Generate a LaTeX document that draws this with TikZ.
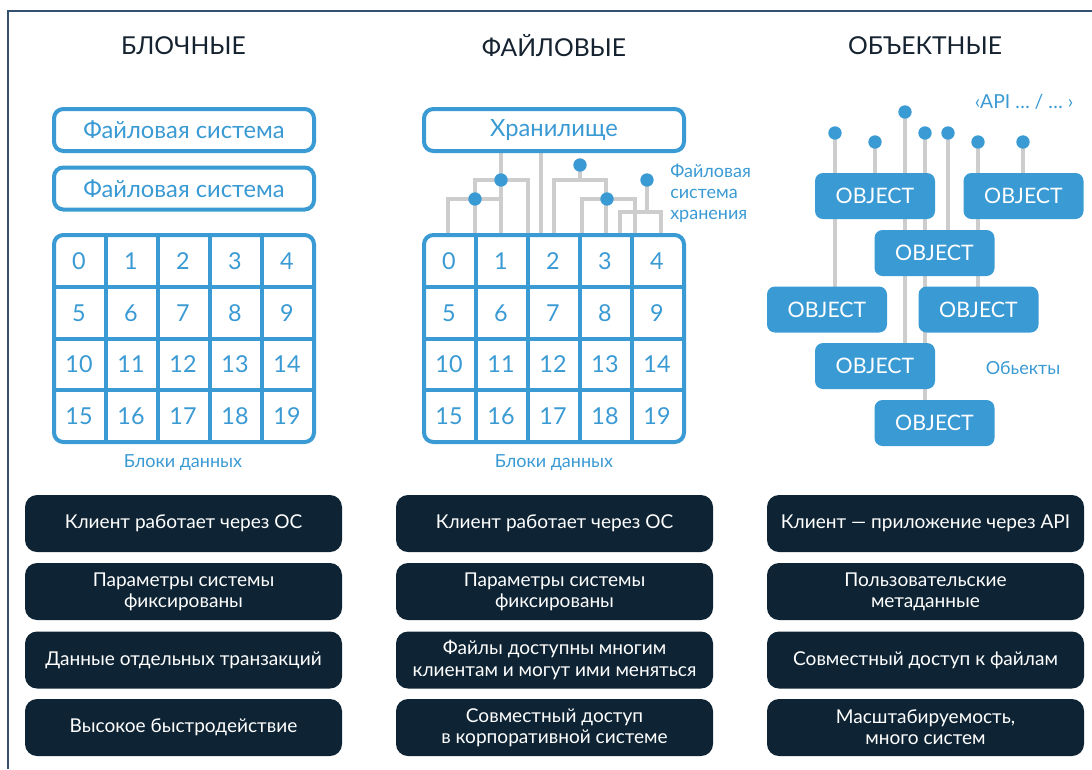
\documentclass[tikz,border=0pt]{standalone}
\usepackage{fontspec}
\setmainfont{Lato}
\definecolor{bl}{HTML}{3A9AD4}
\definecolor{dk}{HTML}{0E2434}
\definecolor{gr}{HTML}{CDCDCD}
\definecolor{fr}{HTML}{34506F}
\definecolor{tt}{HTML}{15222F}
\tikzset{
 title/.style={text=tt, font=\fontsize{18.5}{22}\selectfont},
 fsbox/.style={draw=bl, line width=3pt, rounded corners=7pt, fill=white, text=bl, minimum width=195pt, minimum height=31.5pt, inner sep=0pt, font=\fontsize{17.8}{20}\selectfont},
 gridbox/.style={draw=bl, line width=3pt, rounded corners=7pt, fill=white, minimum width=195pt, minimum height=155.25pt, inner sep=0pt},
 gline/.style={draw=bl, line width=3pt},
 num/.style={text=bl, font=\fontsize{17.5}{20}\selectfont, inner sep=0pt},
 lbl/.style={text=bl, font=\fontsize{13.5}{15.8}\selectfont},
 tree/.style={draw=gr, line width=3pt},
 dot/.style={circle, fill=bl, minimum size=10pt, inner sep=0pt},
 obj/.style={fill=bl, rounded corners=6pt, minimum width=90pt, minimum height=34.5pt, text=white, font=\fontsize{16}{18}\selectfont, inner sep=0pt},
 dbox/.style={fill=dk, rounded corners=9pt, minimum width=237.75pt, minimum height=42.75pt, text=white, align=center, font=\fontsize{14.3}{16}\selectfont, inner sep=0pt},
}
\begin{document}
\begin{tikzpicture}[x=0.75pt,y=-0.75pt]
\useasboundingbox (0,0) rectangle (1092,769);
% frame
\draw[fr, line width=1.5pt] (8,769) -- (8,11) -- (1092,11);

% titles
\node[title] (t-block) at (183.5,46) {БЛОЧНЫЕ};
\node[title] (t-file) at (554,46) {ФАЙЛОВЫЕ};
\node[title] (t-obj) at (925,46) {ОБЪЕКТНЫЕ};

% ---------- block column
\node[fsbox] (fs1) at (184,130) {Файловая система};
\node[fsbox] (fs2) at (184,188.5) {Файловая система};
\node[gridbox] (Lgrid) at (184,338.5) {};
\foreach \k in {1,...,4} \draw[gline] ({54+52*\k},235) -- ({54+52*\k},442);
\foreach \k in {1,...,3} \draw[gline] (54,{235+51.75*\k}) -- (314,{235+51.75*\k});
\foreach \r in {0,...,3} \foreach \c in {0,...,4} {
  \pgfmathtruncatemacro\n{5*\r+\c}
  \node[num] (L\n) at ({79+52*\c},{261+51.75*\r}) {\n};
}
\node[lbl] (Lcap) at (183,463) {Блоки данных};

% ---------- file column: tree (behind)
\draw[tree] (501,150) -- (501,238);
\draw[tree] (475,238) |- (528,180) -- (528,238);
\draw[tree] (448,238) |- (501,199);
\draw[tree] (541,150) -- (541,238);
\draw[tree] (580,165) -- (580,180);
\draw[tree] (554,238) |- (606,180) -- (606,238);
\draw[tree] (582,238) |- (635,199) -- (635,238);
\draw[tree] (647,180) -- (647,212);
\draw[tree] (620,238) |- (661,212) -- (661,238);

\node[fsbox] (store) at (554,130) {Хранилище};
\node[gridbox] (Mgrid) at (554,338.5) {};
\foreach \k in {1,...,4} \draw[gline] ({424+52*\k},235) -- ({424+52*\k},442);
\foreach \k in {1,...,3} \draw[gline] (424,{235+51.75*\k}) -- (684,{235+51.75*\k});
\foreach \r in {0,...,3} \foreach \c in {0,...,4} {
  \pgfmathtruncatemacro\n{5*\r+\c}
  \node[num] (M\n) at ({449+52*\c},{261+51.75*\r}) {\n};
}
\node[lbl] (Mcap) at (554,463) {Блоки данных};

\node[dot] (d1) at (501,180) {};
\node[dot] (d2) at (475,199) {};
\node[dot] (d3) at (580,165) {};
\node[dot] (d4) at (607,199) {};
\node[dot] (d5) at (647,180) {};
\node[lbl, anchor=west, align=left, inner sep=0pt] (fsh) at (670,193) {Файловая\\система\\хранения};

% ---------- object column
\coordinate (o1) at (835,133);
\coordinate (o2) at (875,142);
\coordinate (o3) at (905,112);
\coordinate (o4) at (925,133);
\coordinate (o5) at (948,133);
\coordinate (o6) at (978,142);
\coordinate (o7) at (1023,142);
\coordinate (O1c) at (875,196);
\coordinate (O2c) at (1023.5,196);
\coordinate (O3c) at (934.5,253);
\coordinate (O4c) at (827,309.5);
\coordinate (O5c) at (978.5,309.5);
\coordinate (O6c) at (875,366);
\coordinate (O7c) at (934.5,423);
\draw[tree] (o1) -- (o1 |- O4c);
\draw[tree] (o2) -- (o2 |- O1c);
\draw[tree] (o3) -- (o3 |- O6c);
\draw[tree] (o4) -- (o4 |- O7c);
\draw[tree] (o5) -- (o5 |- O3c);
\draw[tree] (o6) -- (o6 |- O5c);
\draw[tree] (o7) -- (o7 |- O2c);
\foreach \i in {1,...,7} \node[dot] (od\i) at (o\i) {};
\node[obj] (O1) at (O1c) {OBJECT};
\node[obj] (O2) at (O2c) {OBJECT};
\node[obj] (O3) at (O3c) {OBJECT};
\node[obj] (O4) at (O4c) {OBJECT};
\node[obj] (O5) at (O5c) {OBJECT};
\node[obj] (O6) at (O6c) {OBJECT};
\node[obj] (O7) at (O7c) {OBJECT};
\node[lbl, font=\fontsize{14.5}{16}\selectfont] (api) at (1024,102) {‹API … / … ›};
\node[lbl] (objs) at (1023,368) {Обьекты};

% ---------- dark boxes
\node[dbox] (a1) at (183.5,523.5) {Клиент работает через ОС};
\node[dbox] (a2) at (183.5,591.5) {Параметры системы\\фиксированы};
\node[dbox] (a3) at (183.5,660) {Данные отдельных транзакций};
\node[dbox] (a4) at (183.5,727.5) {Высокое быстродействие};
\node[dbox] (b1) at (554.5,523.5) {Клиент работает через ОС};
\node[dbox] (b2) at (554.5,591.5) {Параметры системы\\фиксированы};
\node[dbox] (b3) at (554.5,660) {Файлы доступны многим\\клиентам и могут ими меняться};
\node[dbox] (b4) at (554.5,727.5) {Совместный доступ\\в корпоративной системе};
\node[dbox] (c1) at (925.5,523.5) {Клиент — приложение через API};
\node[dbox] (c2) at (925.5,591.5) {Пользовательские\\метаданные};
\node[dbox] (c3) at (925.5,660) {Совместный доступ к файлам};
\node[dbox] (c4) at (925.5,727.5) {Масштабируемость,\\много систем};
\end{tikzpicture}
\end{document}
